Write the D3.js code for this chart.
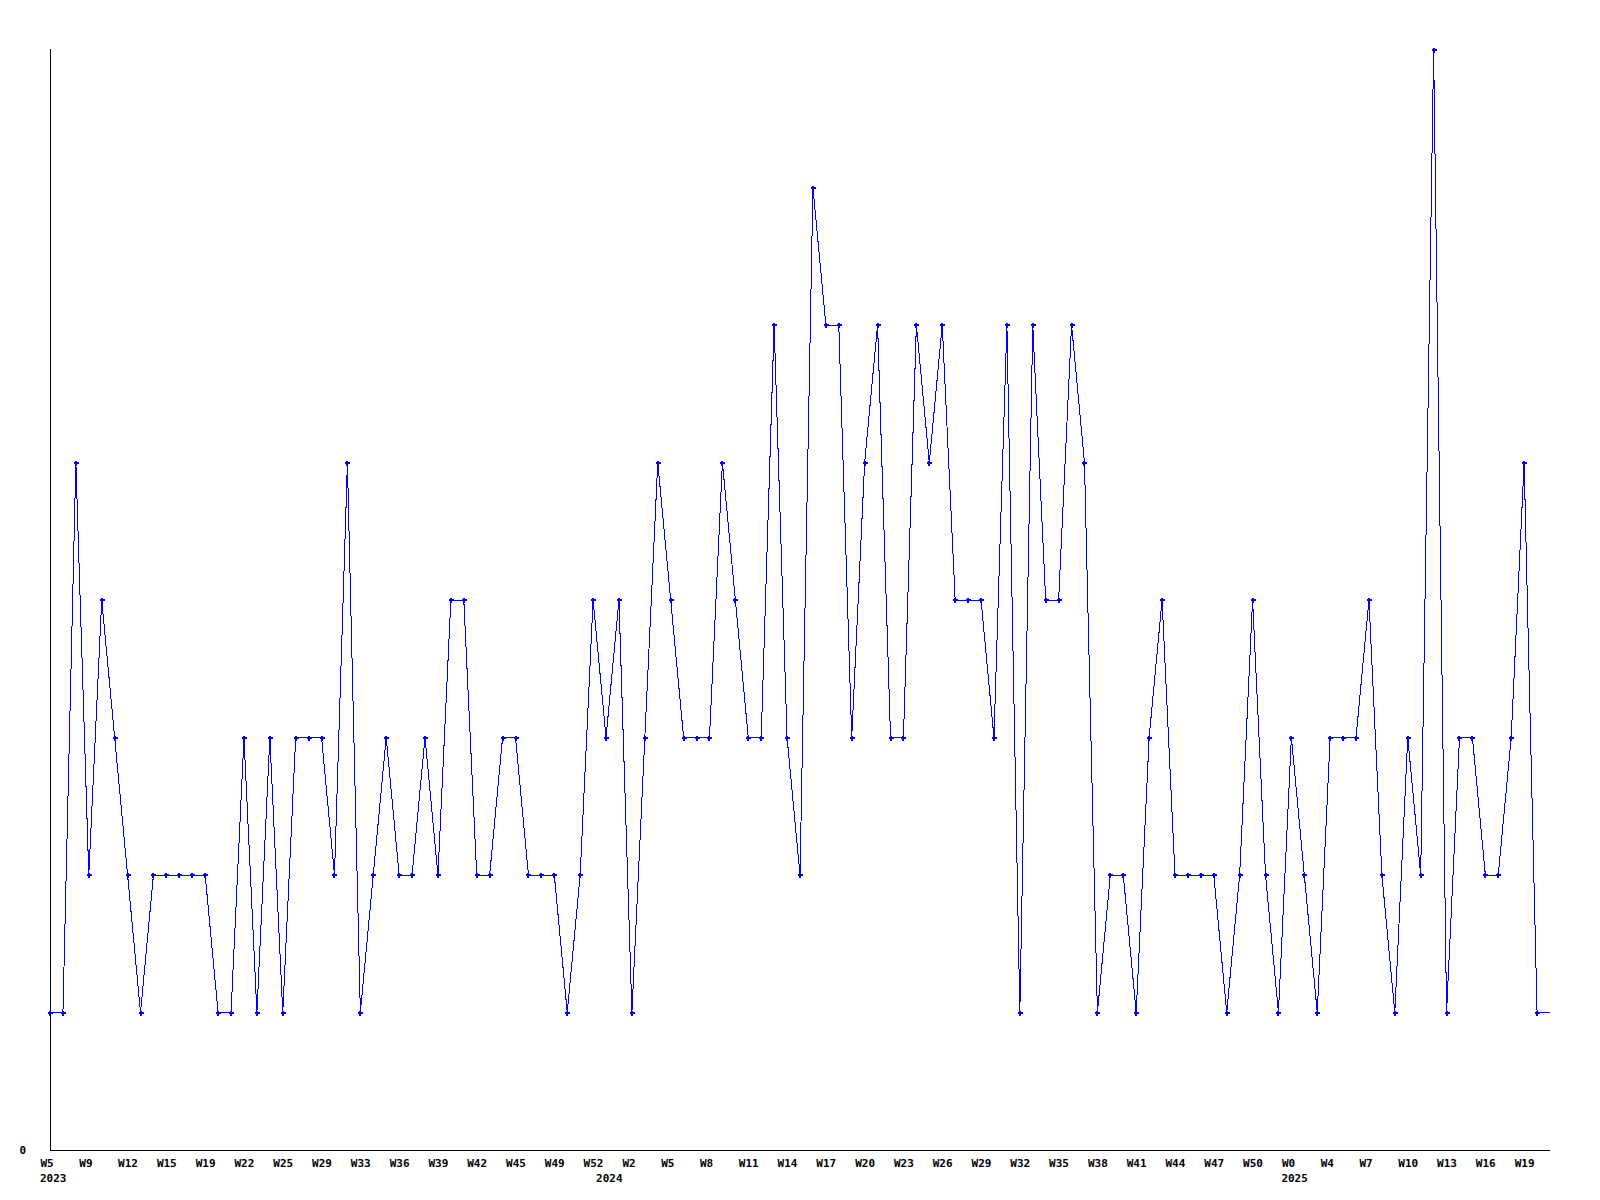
<!DOCTYPE html>
<html>
<head>
<meta charset="utf-8">
<script src="https://cdn.jsdelivr.net/npm/d3@7"></script>
<style>
  html, body { margin: 0; padding: 0; background: #ffffff; }
  svg { display: block; }
  text { font-family: "DejaVu Sans Mono", monospace; font-weight: bold; font-size: 11px; fill: #000; }
</style>
</head>
<body>
<svg id="chart" width="1600" height="1200"></svg>
<script>
// Weekly values, one per week, starting 2023 W5
const values = [
  1, 1, 5, 2, 4, 3, 2, 1, 2, 2, 2, 2, 2, 1, 1, 3, 1, 3, 1, 3,
  3, 3, 2, 5, 1, 2, 3, 2, 2, 3, 2, 4, 4, 2, 2, 3, 3, 2, 2, 2,
  1, 2, 4, 3, 4, 1, 3, 5, 4, 3, 3, 3, 5, 4, 3, 3, 6, 3, 2, 7,
  6, 6, 3, 5, 6, 3, 3, 6, 5, 6, 4, 4, 4, 3, 6, 1, 6, 4, 4, 6,
  5, 1, 2, 2, 1, 3, 4, 2, 2, 2, 2, 1, 2, 4, 2, 1, 3, 2, 1, 3,
  3, 3, 4, 2, 1, 3, 2, 8, 1, 3, 3, 2, 2, 3, 5, 1, 1
];

// Week tick labels, one every 3 points
const weekLabels = [
  "W5","W9","W12","W15","W19","W22","W25","W29","W33","W36","W39","W42","W45","W49","W52",
  "W2","W5","W8","W11","W14","W17","W20","W23","W26","W29","W32","W35","W38","W41","W44","W47","W50",
  "W0","W4","W7","W10","W13","W16","W19"
];
const tickStep = 3;

// Year labels and the point index where each year starts
const years = ["2023", "2024", "2025"];
const yearStarts = [0, 43, 96];

const yTicks = [0];
const yMax = 8;

(function () {
const svg = d3.select("#chart");
const mLeft = 50, mRight = 1550, mTop = 50, mBottom = 1150;

const x = d3.scaleLinear().domain([0, values.length - 1]).range([mLeft, mRight]);
const y = d3.scaleLinear().domain([0, yMax]).range([mBottom, mTop]);

// Axes lines
svg.append("line")
  .attr("x1", x(0)).attr("x2", x(0))
  .attr("y1", y(yMax) - 1).attr("y2", y(0))
  .attr("stroke", "#000").attr("stroke-width", 1)
  .attr("shape-rendering", "crispEdges");
svg.append("line")
  .attr("x1", x(0)).attr("x2", x(values.length - 1))
  .attr("y1", y(0)).attr("y2", y(0))
  .attr("stroke", "#000").attr("stroke-width", 1)
  .attr("shape-rendering", "crispEdges");

// X axis labels
const tickIdx = weekLabels.map((_, k) => k * tickStep);
const xAxis = d3.axisBottom(x)
  .tickValues(tickIdx)
  .tickSize(0)
  .tickPadding(9)
  .tickFormat((d, i) => weekLabels[i]);
const gx = svg.append("g").attr("transform", `translate(0,${y(0)})`).call(xAxis);
gx.select(".domain").remove();
gx.selectAll("text")
  .attr("text-anchor", "start")
  .attr("dx", -10)
  .style("font-family", '"DejaVu Sans Mono", monospace')
  .style("font-weight", "bold")
  .style("font-size", "11px")
  .attr("fill", "#000");

// Year labels
svg.append("g").selectAll("text")
  .data(years)
  .join("text")
  .attr("x", (d, i) => x(yearStarts[i]) - 10)
  .attr("y", 1182)
  .attr("text-anchor", "start")
  .text(d => d);

// Y axis label
const yAxis = d3.axisLeft(y).tickValues(yTicks).tickSize(0).tickPadding(24).tickFormat(d3.format("d"));
const gy = svg.append("g").attr("transform", `translate(${mLeft},0)`).call(yAxis);
gy.select(".domain").remove();
gy.selectAll("text")
  .style("font-family", '"DejaVu Sans Mono", monospace')
  .style("font-weight", "bold")
  .style("font-size", "11px")
  .attr("fill", "#000");

// Line
const line = d3.line().x((d, i) => x(i)).y(d => y(d));
svg.append("path")
  .datum(values)
  .attr("d", line)
  .attr("fill", "none")
  .attr("stroke", "#0000ff")
  .attr("stroke-width", 1)
  .attr("shape-rendering", "crispEdges");

// Markers (the final, still-open week has no marker in the reference)
const marker = (cx, cy) =>
  `M${cx - 2.5},${cy - 1}h5v2h-5z M${cx - 1},${cy - 2.5}h2v5h-2z`;
svg.append("g").selectAll("path")
  .data(values.slice(0, values.length - 1))
  .join("path")
  .attr("d", (d, i) => marker(Math.round(x(i)), Math.round(y(d))))
  .attr("fill", "#0000ff")
  .attr("shape-rendering", "crispEdges");
})();
</script>
</body>
</html>
